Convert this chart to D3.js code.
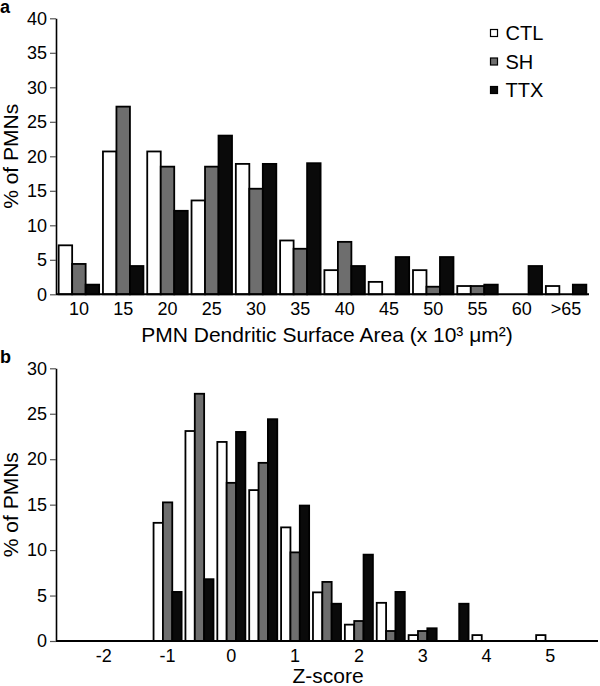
<!DOCTYPE html>
<html>
<head>
<meta charset="utf-8">
<script src="https://cdn.jsdelivr.net/npm/d3@7"></script>
<style>
  html, body { margin: 0; padding: 0; background: #fff; }
  svg { display: block; }
  text { font-family: "Liberation Sans", Arial, sans-serif; fill: #000; }
</style>
</head>
<body>
<svg id="chart" width="600" height="686"></svg>
<script>
// ---------- data ----------
const series = ["CTL", "SH", "TTX"];
const seriesColors = ["#ffffff", "#6e6e6e", "#0a0a0a"];

// Panel a: PMN dendritic surface area bins (x 10^3 um^2)
const areaBins = ["10", "15", "20", "25", "30", "35", "40", "45", "50", "55", "60", ">65"];
const areaCTL = [7.1, 20.7, 20.7, 13.6, 18.9, 7.8, 3.5, 1.8, 3.5, 1.2, 0, 1.2];
const areaSH  = [4.4, 27.2, 18.5, 18.5, 15.3, 6.6, 7.6, 0, 1.1, 1.2, 0, 0];
const areaTTX = [1.4, 4.1, 12.1, 23.0, 18.9, 19.0, 4.1, 5.4, 5.4, 1.4, 4.1, 1.4];
const areaYTicks = [0, 5, 10, 15, 20, 25, 30, 35, 40];

// Panel b: Z-score bins (0.5 wide)
const zBins = [-2.5, -2, -1.5, -1, -0.5, 0, 0.5, 1, 1.5, 2, 2.5, 3, 3.5, 4, 4.5, 5, 5.5];
const zCTL = [0, 0, 0, 13.0, 23.1, 21.9, 16.6, 12.5, 5.35, 1.8, 4.2, 0.65, 0, 0.65, 0, 0.65, 0];
const zSH  = [0, 0, 0, 15.25, 27.2, 17.4, 19.6, 9.75, 6.5, 2.2, 1.1, 1.1, 0, 0, 0, 0, 0];
const zTTX = [0, 0, 0, 5.4, 6.8, 23.0, 24.4, 14.9, 4.1, 9.5, 5.4, 1.4, 4.1, 0, 0, 0, 0];
const zXTickLabels = [-2, -1, 0, 1, 2, 3, 4, 5];
const zYTicks = [0, 5, 10, 15, 20, 25, 30];

// ---------- drawing ----------
const svg = d3.select("#chart");
const FONT = "Liberation Sans, Arial, sans-serif";

function panel(opts) {
  const g = svg.append("g");
  const x0 = d3.scaleBand().domain(opts.cats).range([opts.left, opts.right])
    .paddingInner(opts.padInner).paddingOuter(opts.padOuter);
  const x1 = d3.scaleBand().domain(series).range([0, x0.bandwidth()]);
  const y = d3.scaleLinear().domain([0, opts.ymax]).range([opts.bottom, opts.top]);

  const vals = [opts.ctl, opts.sh, opts.ttx];
  const rows = [];
  opts.cats.forEach((c, i) => {
    series.forEach((s, j) => {
      if (vals[j][i] > 0) rows.push({ cat: c, s: s, j: j, v: vals[j][i] });
    });
  });

  g.selectAll("rect.bar").data(rows).enter().append("rect")
    .attr("class", "bar")
    .attr("x", d => x0(d.cat) + x1(d.s))
    .attr("y", d => y(d.v))
    .attr("width", x1.bandwidth())
    .attr("height", d => y(0) - y(d.v))
    .attr("fill", d => seriesColors[d.j])
    .attr("stroke", "#000")
    .attr("stroke-width", 1.8);

  // y axis
  const yAxis = d3.axisLeft(y).tickValues(opts.yticks).tickSize(6).tickPadding(3).tickSizeOuter(0);
  const ya = g.append("g").attr("transform", `translate(${opts.left},0)`).call(yAxis);
  ya.select(".domain").attr("stroke", "#000").attr("stroke-width", 1.6);
  ya.selectAll(".tick line").attr("stroke", "#555").attr("stroke-width", 1.2);
  ya.selectAll(".tick text").attr("font-size", 18).attr("font-family", FONT).attr("fill", "#000");

  // x axis (baseline only, labels at band centres)
  const xAxis = d3.axisBottom(x0).tickSize(0).tickPadding(8)
    .tickValues(opts.xtickVals).tickFormat(opts.xfmt);
  const xa = g.append("g").attr("transform", `translate(0,${opts.bottom})`).call(xAxis);
  xa.select(".domain").attr("stroke", "#000").attr("stroke-width", 2)
    .attr("d", `M${opts.left},0H${opts.axisRight}`);
  xa.selectAll(".tick text").attr("font-size", 18).attr("font-family", FONT).attr("fill", "#000");

  // y title
  g.append("text")
    .attr("transform", `translate(${opts.ytitleX},${(opts.top + opts.bottom) / 2}) rotate(-90)`)
    .attr("text-anchor", "middle")
    .attr("font-size", 21)
    .text("% of PMNs");

  // panel letter
  g.append("text").attr("x", 0).attr("y", opts.letterY)
    .attr("font-size", 18).attr("font-weight", "bold").text(opts.letter);

  return { g, x0, y };
}

// Panel a
const pa = panel({
  cats: areaBins, ctl: areaCTL, sh: areaSH, ttx: areaTTX,
  left: 56, right: 589, axisRight: 589, top: 18.3, bottom: 294.3, ymax: 40,
  padInner: 0.086, padOuter: 0.06,
  yticks: areaYTicks, xtickVals: areaBins, xfmt: d => d,
  ytitleX: 17.5, letter: "a", letterY: 13
});
pa.g.append("text")
  .attr("x", 327).attr("y", 341.5)
  .attr("text-anchor", "middle").attr("font-size", 21)
  .text("PMN Dendritic Surface Area (x 10³ μm²)");

// legend
const legend = pa.g.append("g");
series.forEach((s, j) => {
  const yy = 33 + j * 28.5;
  legend.append("rect").attr("x", 490.5).attr("y", yy - 3.5).attr("width", 7).attr("height", 7)
    .attr("fill", seriesColors[j]).attr("stroke", "#000").attr("stroke-width", 1.2);
  legend.append("text").attr("x", 505.5).attr("y", yy + 7).attr("font-size", 20).text(s);
});

// Panel b
const pb = panel({
  cats: zBins, ctl: zCTL, sh: zSH, ttx: zTTX,
  left: 56, right: 598, axisRight: 598, top: 368.3, bottom: 641, ymax: 30,
  padInner: 0.12, padOuter: 0.06,
  yticks: zYTicks, xtickVals: zXTickLabels, xfmt: d => String(d),
  ytitleX: 17.5, letter: "b", letterY: 363
});
pb.g.append("text")
  .attr("x", 328).attr("y", 683)
  .attr("text-anchor", "middle").attr("font-size", 21)
  .text("Z-score");
</script>
</body>
</html>
